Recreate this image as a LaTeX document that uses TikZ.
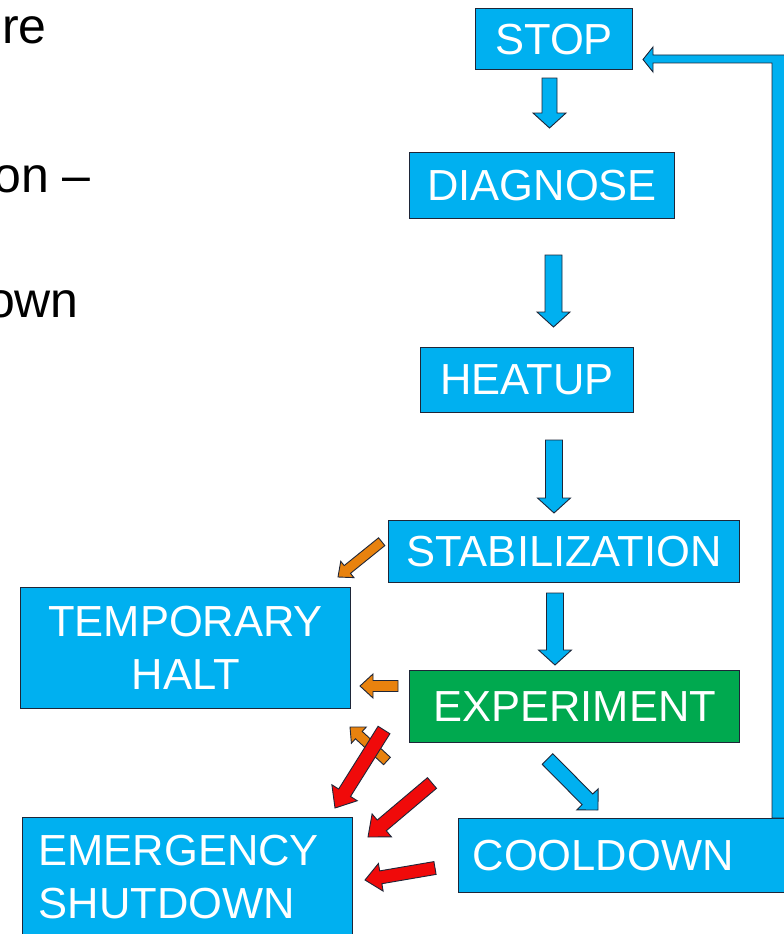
\documentclass[tikz,border=0pt]{standalone}
\usepackage{fontspec}
\usetikzlibrary{calc}
\newfontfamily\arialf{Liberation Sans}
\definecolor{cyanb}{HTML}{00B0F0}
\definecolor{greenb}{HTML}{00A94F}
\definecolor{orangeb}{HTML}{E8820E}
\definecolor{redb}{HTML}{F00A0A}
\definecolor{edgeb}{HTML}{1E2638}
\newcommand{\blockarr}[6]{%
  \coordinate (bah) at ($(#3)!#6!(#2)$);
  \draw[#1] ($(#2)!#4!90:(#3)$) -- ($(bah)!#4!90:(#3)$) -- ($(bah)!#5!90:(#3)$) -- (#3)
    -- ($(bah)!#5!-90:(#3)$) -- ($(bah)!#4!-90:(#3)$) -- ($(#2)!#4!-90:(#3)$) -- cycle;
}
\tikzset{
  box/.style={draw=edgeb, line width=1.2pt, fill=cyanb, text=white,
    font=\arialf\fontsize{43.5}{53}\selectfont, inner sep=0pt, anchor=north west},
  lefttext/.style={font=\arialf\fontsize{50}{60}\selectfont, text=black, inner sep=0pt, anchor=base east},
  bluearr/.style={fill=cyanb, draw=edgeb, line width=0.9pt, line join=miter},
  orangearr/.style={fill=orangeb, draw=edgeb, line width=0.9pt},
  redarr/.style={fill=redb, draw=edgeb, line width=0.9pt},
}
\begin{document}
\begin{tikzpicture}[x=1pt,y=-1pt]
\clip (0,0) rectangle (784,934);
\fill[white] (0,0) rectangle (784,934);
% left cut-off text
\node[lefttext] (t1) at (47,44) {re};
\node[lefttext] (t2) at (91,192) {on –};
\node[lefttext] (t3) at (79,317) {own};
% boxes
\node[box, minimum width=157pt, minimum height=61pt] (stop) at (475,8) {STOP};
\node[box, minimum width=265pt, minimum height=66pt] (diag) at (409,152) {DIAGNOSE};
\node[box, minimum width=213pt, minimum height=65pt] (heat) at (420,347) {HEATUP};
\node[box, minimum width=351pt, minimum height=62pt] (stab) at (388,520) {STABILIZATION};
\node[box, minimum width=330pt, minimum height=121pt, align=center] (temp) at (20,587) {TEMPORARY\\HALT};
\node[box, fill=greenb, minimum width=330pt, minimum height=72pt] (exp) at (409,670) {EXPERIMENT};
\node[box, minimum width=330pt, minimum height=119pt, inner xsep=16pt, text width=298pt, align=left] (emer) at (22,817) {EMERGENCY\\SHUTDOWN};
\node[box, minimum width=340pt, minimum height=74pt, inner xsep=14pt, text width=312pt, align=left] (cool) at (458,818) {COOLDOWN};
% arrow end points
\coordinate (a1s) at (549.5,78);  \coordinate (a1e) at (549.5,128);
\coordinate (a2s) at (553.5,255); \coordinate (a2e) at (553.5,327);
\coordinate (a3s) at (554,440);   \coordinate (a3e) at (554,513);
\coordinate (a4s) at (555,593);   \coordinate (a4e) at (555,665);
\coordinate (a5s) at (547.5,759); \coordinate (a5e) at (598,810);
\coordinate (o1s) at (381.7,541.7); \coordinate (o1e) at (338,577);
\coordinate (o2s) at (398,686);   \coordinate (o2e) at (360,686);
\coordinate (o3s) at (387,761);   \coordinate (o3e) at (350,727);
\coordinate (r1s) at (384,730);   \coordinate (r1e) at (335,808);
\coordinate (r2s) at (432,783);   \coordinate (r2e) at (368,837);
\coordinate (r3s) at (435,868);   \coordinate (r3e) at (365,880);
% blue flow arrows
\blockarr{bluearr}{a1s}{a1e}{7.5pt}{16.5pt}{15pt}
\blockarr{bluearr}{a2s}{a2e}{8.5pt}{16.5pt}{15pt}
\blockarr{bluearr}{a3s}{a3e}{8.5pt}{16.5pt}{15pt}
\blockarr{bluearr}{a4s}{a4e}{8.5pt}{16.5pt}{15pt}
\blockarr{bluearr}{a5s}{a5e}{7.5pt}{15pt}{15pt}
% orange arrows
\blockarr{orangearr}{o1s}{o1e}{5pt}{10.5pt}{12pt}
\blockarr{orangearr}{o2s}{o2e}{5.5pt}{12pt}{13pt}
\blockarr{orangearr}{o3s}{o3e}{5pt}{11pt}{12pt}
% red arrows
\blockarr{redarr}{r1s}{r1e}{7pt}{15pt}{18pt}
\blockarr{redarr}{r2s}{r2e}{7pt}{15pt}{18pt}
\blockarr{redarr}{r3s}{r3e}{6.5pt}{14pt}{16pt}
% feedback from COOLDOWN to STOP
\coordinate (fbA) at (772,818);
\coordinate (fbB) at (772,63);
\coordinate (fbTip) at (643,59.5);
\draw[bluearr] (fbA) -- (fbB) -- (653,63) -- (653,72) -- (fbTip) -- (653,47) -- (653,55) -- (790,55) -- (790,818) -- cycle;
\end{tikzpicture}
\end{document}
